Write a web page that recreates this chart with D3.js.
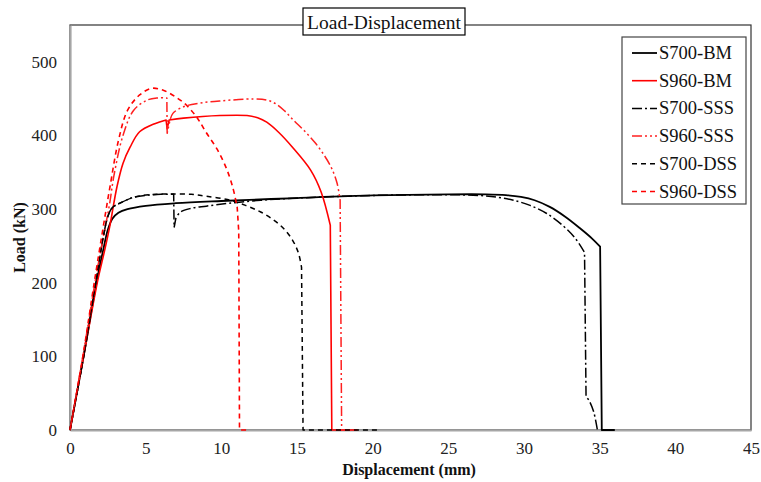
<!DOCTYPE html>
<html>
<head>
<meta charset="utf-8">
<script src="https://cdn.jsdelivr.net/npm/d3@7"></script>
<style>
  html, body { margin: 0; padding: 0; background: #fff; }
  svg { display: block; font-family: "Liberation Serif", "Times New Roman", serif; }
</style>
</head>
<body>
<svg id="chart" width="761" height="482"></svg>
<script>
// ---- Data ----
const titleText = "Load-Displacement";
const xLabel = "Displacement (mm)";
const yLabel = "Load (kN)";
const xTicks = [0, 5, 10, 15, 20, 25, 30, 35, 40, 45];
const yTicks = [0, 100, 200, 300, 400, 500];
const seriesNames = ["S700-BM", "S960-BM", "S700-SSS", "S960-SSS", "S700-DSS", "S960-DSS"];

// [displacement (mm), load (kN)]
const s700BM = [[0,0],[0.9,100],[1.75,200],[2.2,245],[2.5,272],[2.8,287],[3.2,295],[3.8,300],[5,304.5],[7,308],[10,311],[15,315],[20,318.5],[25,320],[27.5,320],[28.8,319],[29.8,316.5],[30.7,312],[31.7,303],[32.7,290],[33.7,274],[34.5,260],[35.03,249],[35.14,0],[36.0,0]];
const s960BM = [[0,0],[0.9,100],[1.8,200],[2.3,245],[2.64,278],[3.1,330],[3.5,362],[3.97,384],[4.6,405],[5.6,416],[6.35,421],[6.42,409],[6.55,421],[7.5,423.5],[9.9,427],[11.7,427],[12.4,424],[13.0,418],[13.8,404],[14.7,384],[15.9,353],[16.6,323],[17.2,278],[17.3,0],[19.0,0]];
const s700SSS = [[0,0],[0.9,100],[1.7,200],[2.2,262],[2.5,290],[2.8,302],[3.3,308],[4.2,316],[5.2,319],[6.0,320],[6.85,320],[6.88,275],[7.0,288],[7.3,296],[8,301],[9,304],[10.5,308],[12.6,312],[15,315],[20,318.5],[25,319.5],[27,318.5],[28.3,316],[29.3,312],[30.4,305],[31.5,294],[32.6,277],[33.4,260],[34.0,241],[34.1,45],[34.3,40],[34.6,25],[34.85,0]];
const s960SSS = [[0,0],[0.85,100],[1.65,200],[2.2,262],[2.6,305],[2.9,345],[3.5,400],[4.2,434],[5.1,448],[5.8,451],[6.4,451],[6.42,403],[6.6,420],[6.8,430],[7.5,439],[8.6,444],[10,447],[12.1,449.5],[13,448],[13.6,443],[14.2,433],[14.8,420],[15.5,406],[16.2,390],[16.8,373],[17.3,355],[17.65,335],[17.85,312],[17.95,0],[19.0,0]];
const s700DSS = [[0,0],[0.9,100],[1.7,200],[2.2,262],[2.5,290],[2.8,302],[3.3,308],[4.2,316],[5.2,319.5],[6.5,320.5],[8.0,320],[9.0,317.5],[10.4,313],[11.6,305],[12.6,296],[13.4,286],[14.1,274],[14.7,258],[15.1,240],[15.3,221],[15.4,0],[20.3,0]];
const s960DSS = [[0,0],[0.85,100],[1.6,200],[2.0,251],[2.35,295],[2.64,330],[3.2,393],[3.8,434],[4.6,455],[5.4,464],[6.2,461],[7.0,452],[7.7,441],[8.4,424],[9.0,404],[9.7,382],[10.3,357],[10.75,330],[11.05,302],[11.15,270],[11.2,0],[11.7,0]];

const seriesData = [s700BM, s960BM, s700SSS, s960SSS, s700DSS, s960DSS];
const seriesColors = ["#000000", "#ff0000", "#000000", "#ff2020", "#000000", "#ff0000"];
const seriesDash = [null, null, "10,3,2,3", "10,3,2,3,2,3", "5,4", "5,4"];
const seriesWidth = [1.8, 1.6, 1.5, 1.5, 1.5, 1.6];

// ---- Layout ----
const svg = d3.select("#chart");
const L = 70, R = 751, T = 25, B = 430;
const x = d3.scaleLinear().domain([0, 45]).range([L, R]);
const y = d3.scaleLinear().domain([0, 550]).range([B, T]);
const serif = "'Liberation Serif', 'Times New Roman', serif";

// plot border (top/right)
svg.append("rect")
  .attr("x", L).attr("y", T).attr("width", R - L).attr("height", B - T)
  .attr("fill", "none").attr("stroke", "#333").attr("stroke-width", 1.2);

// axes
const yAxis = d3.axisLeft(y).tickValues(yTicks).tickSize(0).tickPadding(13).tickSizeOuter(0);
const xAxis = d3.axisBottom(x).tickValues(xTicks).tickSize(0).tickPadding(12).tickSizeOuter(0);

const gy = svg.append("g").attr("transform", `translate(${L},0)`).call(yAxis);
const gx = svg.append("g").attr("transform", `translate(0,${B})`).call(xAxis);
[gx, gy].forEach(g => {
  g.attr("font-family", serif);
  g.select(".domain").attr("stroke", "#a6a6a6").attr("stroke-width", 2.2);
  g.selectAll("text").attr("font-family", serif).attr("font-size", 17).attr("fill", "#222");
});

// series lines: smooth runs joined at sharp corners (steep drops)
const smoothLine = d3.line()
  .x(d => x(d[0])).y(d => y(d[1]))
  .curve(d3.curveCatmullRom.alpha(0.5));

function buildPath(data) {
  const brk = new Set([0, data.length - 1]);
  for (let i = 0; i < data.length - 1; i++) {
    const dx = Math.abs(data[i + 1][0] - data[i][0]);
    const dy = Math.abs(data[i + 1][1] - data[i][1]);
    if (dx < 0.2 && dy > 10) { brk.add(i); brk.add(i + 1); }
  }
  const idx = Array.from(brk).sort((a, b) => a - b);
  let d = "";
  for (let k = 0; k < idx.length - 1; k++) {
    const run = data.slice(idx[k], idx[k + 1] + 1);
    let seg = smoothLine(run);
    if (k > 0) seg = seg.replace(/^M[^A-Za-z]*/, "");
    d += seg;
  }
  return d;
}

const gLines = svg.append("g");
seriesData.forEach((data, i) => {
  gLines.append("path")
    .attr("d", buildPath(data))
    .attr("fill", "none")
    .attr("stroke", seriesColors[i])
    .attr("stroke-width", seriesWidth[i])
    .attr("stroke-dasharray", seriesDash[i])
    .attr("stroke-linejoin", "round");
});

// title box
const titleG = svg.append("g");
titleG.append("rect")
  .attr("x", 303).attr("y", 8).attr("width", 162).attr("height", 27)
  .attr("fill", "#fff").attr("stroke", "#000").attr("stroke-width", 1.2);
titleG.append("text")
  .attr("x", 384).attr("y", 28.5)
  .attr("text-anchor", "middle")
  .attr("font-family", serif)
  .attr("font-size", 19.5).attr("fill", "#111")
  .text(titleText);

// axis titles
svg.append("text")
  .attr("x", 409).attr("y", 475)
  .attr("text-anchor", "middle")
  .attr("font-family", serif)
  .attr("font-size", 16).attr("font-weight", "bold").attr("fill", "#111")
  .text(xLabel);
svg.append("text")
  .attr("transform", `translate(25,${(T + B) / 2 + 10}) rotate(-90)`)
  .attr("text-anchor", "middle")
  .attr("font-family", serif)
  .attr("font-size", 16).attr("font-weight", "bold").attr("fill", "#111")
  .text(yLabel);

// legend
const leg = svg.append("g");
leg.append("rect")
  .attr("x", 622).attr("y", 37).attr("width", 124).attr("height", 167)
  .attr("fill", "#fff").attr("stroke", "#444").attr("stroke-width", 1.2);
seriesNames.forEach((name, i) => {
  const cy = 53 + i * 27.7;
  leg.append("line")
    .attr("x1", 632).attr("x2", 657).attr("y1", cy).attr("y2", cy)
    .attr("stroke", seriesColors[i])
    .attr("stroke-width", seriesWidth[i])
    .attr("stroke-dasharray", seriesDash[i]);
  leg.append("text")
    .attr("x", 659).attr("y", cy + 6)
    .attr("font-family", serif)
    .attr("font-size", 18.5).attr("fill", "#111")
    .text(name);
});
</script>
</body>
</html>
